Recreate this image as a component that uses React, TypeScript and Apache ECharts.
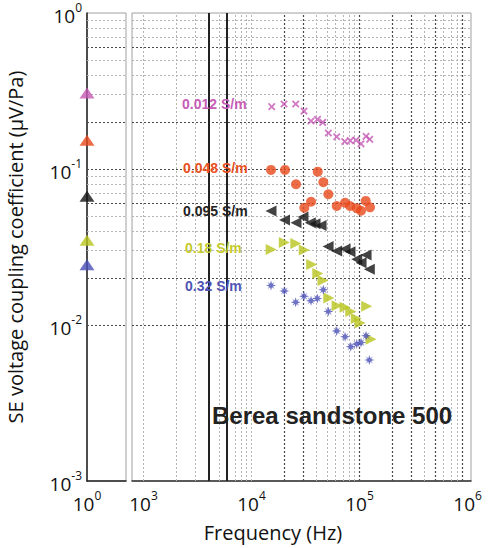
import React, { useEffect, useRef } from 'react';
import * as echarts from 'echarts';

const FONT = '"Open Sans", "Noto Sans", sans-serif';
const ARIAL = '"Liberation Sans", Arial, sans-serif';

// Series labels and colours
const conductivityLabels = ['0.012 S/m', '0.048 S/m', '0.095 S/m', '0.18 S/m', '0.32 S/m'];
const seriesColors = ['#c657b4', '#e8481c', '#141414', '#b8c41e', '#4a4fb6'];
const labelColors = ['#c75db6', '#e9501f', '#222222', '#c5c92c', '#4f54b4'];

// Low-frequency (10^0 Hz) reference values, left panel
const lowFreqHz = 1;
const lowFreqValues = [0.307, 0.153, 0.067, 0.035, 0.0243];

// 0.012 S/m
const freqPink = [15380, 20000, 25650, 30620, 35560, 40850, 45620, 51420, 61480, 72940, 82170, 92840, 103250, 114870, 124190];
const valPink = [0.251, 0.261, 0.261, 0.235, 0.203, 0.208, 0.199, 0.17, 0.161, 0.15, 0.152, 0.153, 0.145, 0.162, 0.155];
// 0.048 S/m
const freqOrange = [15160, 20420, 25820, 30830, 35560, 41020, 46220, 51420, 61480, 73430, 81650, 94220, 103250, 114080, 125060];
const valOrange = [0.0986, 0.0986, 0.0798, 0.0565, 0.0617, 0.0961, 0.0822, 0.0689, 0.0579, 0.0608, 0.0579, 0.056, 0.054, 0.0624, 0.0568];
// 0.095 S/m
const freqBlack = [15160, 20210, 25820, 29980, 35010, 38720, 44020, 51100, 61480, 73430, 81650, 94220, 103250, 114870, 123230];
const valBlack = [0.0538, 0.0471, 0.0453, 0.0492, 0.0453, 0.0446, 0.0434, 0.0319, 0.0298, 0.0307, 0.0295, 0.0264, 0.0251, 0.0281, 0.0228];
// 0.18 S/m
const freqYellow = [15220, 20130, 25720, 30760, 36070, 41100, 45920, 51960, 61920, 73430, 82930, 93370, 101080, 116540, 127740];
const valYellow = [0.0305, 0.0338, 0.0333, 0.0303, 0.0244, 0.0214, 0.0193, 0.0149, 0.0133, 0.013, 0.0122, 0.011, 0.0103, 0.0132, 0.0081];
// 0.32 S/m
const freqBlue = [15160, 20130, 25650, 30620, 35560, 40650, 46220, 51420, 61480, 73430, 82930, 94220, 103250, 114870, 123230];
const valBlue = [0.0179, 0.0165, 0.014, 0.0153, 0.0143, 0.0148, 0.0168, 0.0122, 0.00916, 0.00841, 0.00726, 0.00755, 0.00771, 0.00854, 0.00597];

// Grid lines (log paper)
const yGridDark = [0.001, 0.002, 0.006, 0.01, 0.02, 0.06, 0.1, 0.2, 0.6];
const yGridLight = [0.003, 0.004, 0.005, 0.007, 0.008, 0.009, 0.03, 0.04, 0.05, 0.07, 0.08, 0.09, 0.3, 0.4, 0.5, 0.7, 0.8, 0.9];
const xGridDark = [20000, 30000, 100000, 200000, 300000, 500000, 900000];
const xGridLight = [1000, 2000, 3000, 4000, 5000, 6000, 7000, 8000, 9000, 10000, 40000, 50000, 60000, 70000, 80000, 90000, 400000, 600000, 700000, 800000];
const heavyLinesHz = [4040, 5930];

const xMainMin = 783;
const xMainMax = 1076000;

const crossPath = 'path://M4,0h2v4h4v2h-4v4h-2v-4h-4v-2h4z';
const starPath = 'path://M5,0L6,3.2L8.5,1.5L6.8,4L10,5L6.8,6L8.5,8.5L6,6.8L5,10L4,6.8L1.5,8.5L3.2,6L0,5L3.2,4L1.5,1.5L4,3.2Z';

const zip = (xs: number[], ys: number[]) => xs.map((x, i) => [x, ys[i]]);

const supFormatter = (v: number) => {
  const l = Math.log10(v);
  const e = Math.round(l);
  if (Math.abs(l - e) > 1e-6) return '';
  return `{b|10}{s|${e}}`;
};

const richLabel = {
  b: { fontSize: 19, fontFamily: FONT, color: '#111', lineHeight: 24, verticalAlign: 'bottom' },
  s: { fontSize: 12, fontFamily: FONT, color: '#111', lineHeight: 14, verticalAlign: 'top' },
};

export default function App() {
  const ref = useRef<HTMLDivElement>(null);
  useEffect(() => {
    if (!ref.current) return;
    const chart = echarts.init(ref.current, null, { renderer: 'svg' });

    const hLines = [
      ...yGridLight.map((v) => ({ yAxis: v, lineStyle: { color: '#b4b4b4', width: 1, type: [2, 2] } })),
      ...yGridDark.map((v) => ({ yAxis: v, lineStyle: { color: '#4a4a4a', width: 1.2, type: [2, 2] } })),
    ];
    const vLines = [
      ...xGridLight.map((v) => ({ xAxis: v, lineStyle: { color: '#b4b4b4', width: 1, type: [2, 2] } })),
      ...xGridDark.map((v) => ({ xAxis: v, lineStyle: { color: '#4a4a4a', width: 1.2, type: [2, 2] } })),
    ];
    const heavyLines = heavyLinesHz.map((v) => ({ xAxis: v, lineStyle: { color: '#222', width: 2, type: 'solid' } }));

    const scatterBase = {
      type: 'scatter',
      xAxisIndex: 1,
      yAxisIndex: 1,
      z: 5,
      silent: true,
    };

    const option: any = {
      animation: false,
      backgroundColor: '#fff',
      grid: [
        { left: 87, top: 13, width: 39, height: 468, show: true, borderColor: '#a0a0a0', borderWidth: 1 },
        { left: 132, top: 13, width: 339, height: 468, show: true, borderColor: '#a0a0a0', borderWidth: 1 },
      ],
      xAxis: [
        {
          type: 'log',
          gridIndex: 0,
          min: 1,
          max: 10,
          axisLine: { show: true, lineStyle: { color: '#222', width: 1.5 } },
          axisTick: { show: false },
          splitLine: { show: false },
          axisLabel: { formatter: supFormatter, rich: richLabel, margin: 8, showMaxLabel: false },
        },
        {
          type: 'log',
          gridIndex: 1,
          min: xMainMin,
          max: xMainMax,
          axisLine: { show: true, lineStyle: { color: '#333', width: 1.5 } },
          axisTick: { show: false },
          splitLine: { show: false },
          axisLabel: { formatter: supFormatter, rich: richLabel, margin: 8, showMinLabel: false, showMaxLabel: false },
        },
      ],
      yAxis: [
        {
          type: 'log',
          gridIndex: 0,
          min: 0.001,
          max: 1,
          axisLine: { show: true, lineStyle: { color: '#222', width: 1.5 } },
          axisTick: { show: false },
          splitLine: { show: false },
          axisLabel: { formatter: supFormatter, rich: richLabel, margin: 5 },
          name: 'SE voltage coupling coefficient (μV/Pa)',
          nameLocation: 'middle',
          nameGap: 62,
          nameRotate: 90,
          nameTextStyle: { fontSize: 20, fontFamily: FONT, color: '#111' },
        },
        {
          type: 'log',
          gridIndex: 1,
          min: 0.001,
          max: 1,
          axisLine: { show: false },
          axisTick: { show: false },
          splitLine: { show: false },
          axisLabel: { show: false },
        },
      ],
      series: [
        {
          type: 'scatter',
          xAxisIndex: 0,
          yAxisIndex: 0,
          data: [],
          silent: true,
          z: 1,
          markLine: { silent: true, symbol: ['none', 'none'], label: { show: false }, animation: false, data: hLines },
        },
        {
          type: 'scatter',
          xAxisIndex: 1,
          yAxisIndex: 1,
          data: [],
          silent: true,
          z: 1,
          markLine: { silent: true, symbol: ['none', 'none'], label: { show: false }, animation: false, data: [...hLines, ...vLines, ...heavyLines] },
        },
        {
          type: 'scatter',
          xAxisIndex: 0,
          yAxisIndex: 0,
          z: 5,
          silent: true,
          symbol: 'triangle',
          symbolSize: [15, 11],
          clip: false,
          data: lowFreqValues.map((v, i) => ({ value: [lowFreqHz, v], itemStyle: { color: seriesColors[i] } })),
        },
        { ...scatterBase, name: conductivityLabels[0], symbol: crossPath, symbolRotate: 45, symbolSize: 9, itemStyle: { color: seriesColors[0] }, data: zip(freqPink, valPink) },
        { ...scatterBase, name: conductivityLabels[1], symbol: 'circle', symbolSize: 10, itemStyle: { color: seriesColors[1] }, data: zip(freqOrange, valOrange) },
        { ...scatterBase, name: conductivityLabels[2], symbol: 'triangle', symbolRotate: 90, symbolSize: 11, itemStyle: { color: seriesColors[2] }, data: zip(freqBlack, valBlack) },
        { ...scatterBase, name: conductivityLabels[3], symbol: 'triangle', symbolRotate: -90, symbolSize: 11, itemStyle: { color: seriesColors[3] }, data: zip(freqYellow, valYellow) },
        { ...scatterBase, name: conductivityLabels[4], symbol: starPath, symbolSize: 10, itemStyle: { color: seriesColors[4] }, data: zip(freqBlue, valBlue) },
      ],
      graphic: [
        { type: 'text', x: 182, y: 104, z: 10, style: { text: conductivityLabels[0], fill: labelColors[0], font: `bold 14px ${ARIAL}`, textVerticalAlign: 'middle' } },
        { type: 'text', x: 183, y: 168, z: 10, style: { text: conductivityLabels[1], fill: labelColors[1], font: `bold 14px ${ARIAL}`, textVerticalAlign: 'middle' } },
        { type: 'text', x: 183, y: 211, z: 10, style: { text: conductivityLabels[2], fill: labelColors[2], font: `bold 14px ${ARIAL}`, textVerticalAlign: 'middle' } },
        { type: 'text', x: 185, y: 248, z: 10, style: { text: conductivityLabels[3], fill: labelColors[3], font: `bold 14px ${ARIAL}`, textVerticalAlign: 'middle' } },
        { type: 'text', x: 185, y: 286, z: 10, style: { text: conductivityLabels[4], fill: labelColors[4], font: `bold 14px ${ARIAL}`, textVerticalAlign: 'middle' } },
        { type: 'text', x: 212, y: 415, z: 10, style: { text: 'Berea sandstone 500', fill: '#222', font: `bold 24px ${ARIAL}`, textVerticalAlign: 'middle' } },
        { type: 'text', x: 273, y: 532, style: { text: 'Frequency (Hz)', fill: '#111', font: `20px ${FONT}`, textAlign: 'center', textVerticalAlign: 'middle' } },
      ],
    };
    chart.setOption(option);
    return () => chart.dispose();
  }, []);
  return <div ref={ref} style={{ position: 'fixed', left: 0, top: 0, width: 493, height: 548 }} />;
}
